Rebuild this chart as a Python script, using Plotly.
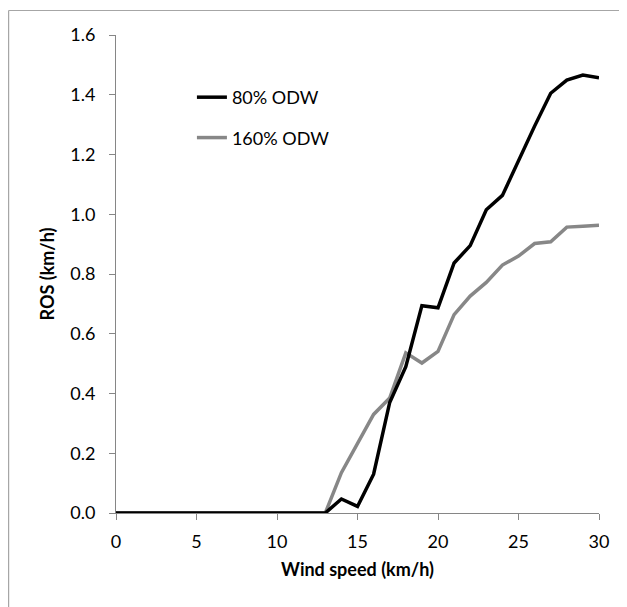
import plotly.graph_objects as go

wind_speed = list(range(0, 31))
ros_80 = [0, 0, 0, 0, 0, 0, 0, 0, 0, 0, 0, 0, 0, 0,
          0.047, 0.022, 0.13, 0.37, 0.49, 0.694, 0.687, 0.837, 0.895, 1.015,
          1.063, 1.18, 1.295, 1.405, 1.449, 1.466, 1.457]
ros_160 = [0, 0, 0, 0, 0, 0, 0, 0, 0, 0, 0, 0, 0, 0,
           0.135, 0.235, 0.33, 0.385, 0.536, 0.502, 0.541, 0.664, 0.726, 0.772,
           0.83, 0.86, 0.902, 0.908, 0.957, 0.96, 0.963]
series_names = ["80% ODW", "160% ODW"]
x_ticks = [0, 5, 10, 15, 20, 25, 30]
y_ticks = [0.0, 0.2, 0.4, 0.6, 0.8, 1.0, 1.2, 1.4, 1.6]

# page has an 8px body margin; figure coordinates = page coordinates - 8
OFF = 8
W, H = 627 - OFF, 607 - OFF
L, R, T, B = 116 - OFF, 599.5 - OFF, 35 - OFF, 513.3 - OFF
pw, ph = R - L, B - T

def px_x(px):
    return (px - OFF - L) / pw

def px_y(py):
    return (B - (py - OFF)) / ph

FONT = "Lato, Carlito, Calibri, 'Open Sans', sans-serif"
AXIS_GRAY = "#868686"

fig = go.Figure()
fig.add_trace(go.Scatter(x=wind_speed, y=ros_160, mode="lines", name=series_names[1],
                         line=dict(color="#878787", width=3.5), legendgroup="b",
                         legendrank=2))
fig.add_trace(go.Scatter(x=wind_speed, y=ros_80, mode="lines", name=series_names[0],
                         line=dict(color="#000000", width=3.5), legendgroup="a",
                         legendrank=1))

fig.update_layout(
    width=W, height=H,
    margin=dict(l=L, r=W - R, t=T, b=H - B, pad=0),
    paper_bgcolor="white", plot_bgcolor="white",
    font=dict(family=FONT, size=18, color="black"),
    showlegend=True,
    legend=dict(x=px_x(192), y=px_y(79), xanchor="left", yanchor="top",
                bgcolor="rgba(0,0,0,0)", font=dict(size=18),
                traceorder="grouped", tracegroupgap=14),
    xaxis=dict(range=[0, 30], tickvals=x_ticks, ticktext=[str(v) for v in x_ticks],
               showgrid=False, zeroline=False, showline=True, linecolor=AXIS_GRAY,
               linewidth=1, ticks="outside", ticklen=6, tickcolor=AXIS_GRAY,
               ticklabelstandoff=6, tickfont=dict(size=18),
               title=dict(text="<b>Wind speed (km/h)</b>", standoff=12,
                          font=dict(size=18))),
    yaxis=dict(range=[0, 1.6], tickvals=y_ticks, ticktext=[f"{v:.1f}" for v in y_ticks],
               showgrid=False, zeroline=False, showline=True, linecolor=AXIS_GRAY,
               linewidth=1, ticks="outside", ticklen=6, tickcolor=AXIS_GRAY,
               ticklabelstandoff=10, tickfont=dict(size=18),
               title=dict(text="<b>ROS (km/h)</b>", standoff=10,
                          font=dict(size=18))),
)

# outer chart-area border (only left and top edges visible in the crop)
border = "#A6A6A6"
fig.add_shape(type="line", xref="paper", yref="paper",
              x0=px_x(8.5), x1=px_x(8.5), y0=px_y(620), y1=px_y(10.5),
              line=dict(color=border, width=1.2))
fig.add_shape(type="line", xref="paper", yref="paper",
              x0=px_x(8.5), x1=px_x(640), y0=px_y(10.5), y1=px_y(10.5),
              line=dict(color=border, width=1.2))

fig.write_html("out.html")
